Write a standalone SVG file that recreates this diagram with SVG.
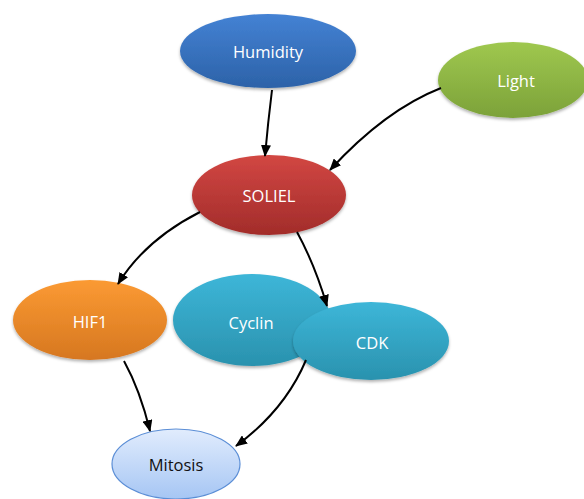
<svg xmlns="http://www.w3.org/2000/svg" width="584" height="499" viewBox="0 0 584 499">
<defs>
<linearGradient id="gBlue" x1="0" y1="0" x2="0" y2="1"><stop offset="0" stop-color="#4482d4"/><stop offset="1" stop-color="#2c62a8"/></linearGradient>
<linearGradient id="gGreen" x1="0" y1="0" x2="0" y2="1"><stop offset="0" stop-color="#9fc84f"/><stop offset="1" stop-color="#7ca239"/></linearGradient>
<linearGradient id="gRed" x1="0" y1="0" x2="0" y2="1"><stop offset="0" stop-color="#d24743"/><stop offset="1" stop-color="#a22c2a"/></linearGradient>
<linearGradient id="gOrange" x1="0" y1="0" x2="0" y2="1"><stop offset="0" stop-color="#fb9a33"/><stop offset="1" stop-color="#d67720"/></linearGradient>
<linearGradient id="gTeal" x1="0" y1="0" x2="0" y2="1"><stop offset="0" stop-color="#3db6d8"/><stop offset="1" stop-color="#2a92ae"/></linearGradient>
<linearGradient id="gLight" x1="0" y1="0" x2="0" y2="1"><stop offset="0" stop-color="#e1ecfd"/><stop offset="1" stop-color="#a6c6f4"/></linearGradient>
<filter id="sh" x="-20%" y="-20%" width="140%" height="150%"><feDropShadow dx="0" dy="2" stdDeviation="1.5" flood-color="#000" flood-opacity="0.3"/></filter>
<marker id="arr" markerWidth="12" markerHeight="10" refX="11" refY="5" orient="auto" markerUnits="userSpaceOnUse"><path d="M0,0 L12,5 L0,10 Z" fill="#000"/></marker>
</defs>
<style>
.lbl{font-family:"Open Sans",Lato,"Liberation Sans",sans-serif;font-size:16.5px;fill:#fff;text-anchor:middle;dominant-baseline:central}
.dark{fill:#111}
.edge{fill:none;stroke:#000;stroke-width:2;marker-end:url(#arr)}
</style>
<rect width="584" height="499" fill="#fff"/>
<g id="humidity"><ellipse cx="268" cy="51" rx="88" ry="37" fill="url(#gBlue)" filter="url(#sh)"/><text class="lbl" x="268" y="51">Humidity</text></g>
<g id="light"><ellipse cx="513" cy="80" rx="75" ry="38" fill="url(#gGreen)" filter="url(#sh)"/><text class="lbl" x="516" y="80">Light</text></g>
<g id="soliel"><ellipse cx="269" cy="195" rx="77" ry="40" fill="url(#gRed)" filter="url(#sh)"/><text class="lbl" x="269" y="195">SOLIEL</text></g>
<g id="hif1"><ellipse cx="90" cy="320" rx="77" ry="40" fill="url(#gOrange)" filter="url(#sh)"/><text class="lbl" x="90" y="321">HIF1</text></g>
<g id="cyclin"><ellipse cx="252" cy="320" rx="79" ry="46" fill="url(#gTeal)" filter="url(#sh)"/><text class="lbl" x="251" y="322">Cyclin</text></g>
<g id="cdk"><ellipse cx="371" cy="341" rx="78" ry="39" fill="url(#gTeal)" filter="url(#sh)"/><text class="lbl" x="372" y="342">CDK</text></g>
<g id="mitosis"><ellipse cx="176" cy="464" rx="64" ry="35" fill="url(#gLight)" stroke="#5b8ed6" stroke-width="1.2"/><text class="lbl dark" x="176" y="464">Mitosis</text></g>
<g id="connectors">
<path class="edge" d="M272,90 Q268,122 265,156"/>
<path class="edge" d="M441,88 Q385,110 330,170"/>
<path class="edge" d="M200,212 Q145,240 118,284"/>
<path class="edge" d="M297,232 Q315,265 327,306"/>
<path class="edge" d="M124,361 Q140,390 150,431"/>
<path class="edge" d="M306,360 Q285,410 236,446"/>
</g>
</svg>
